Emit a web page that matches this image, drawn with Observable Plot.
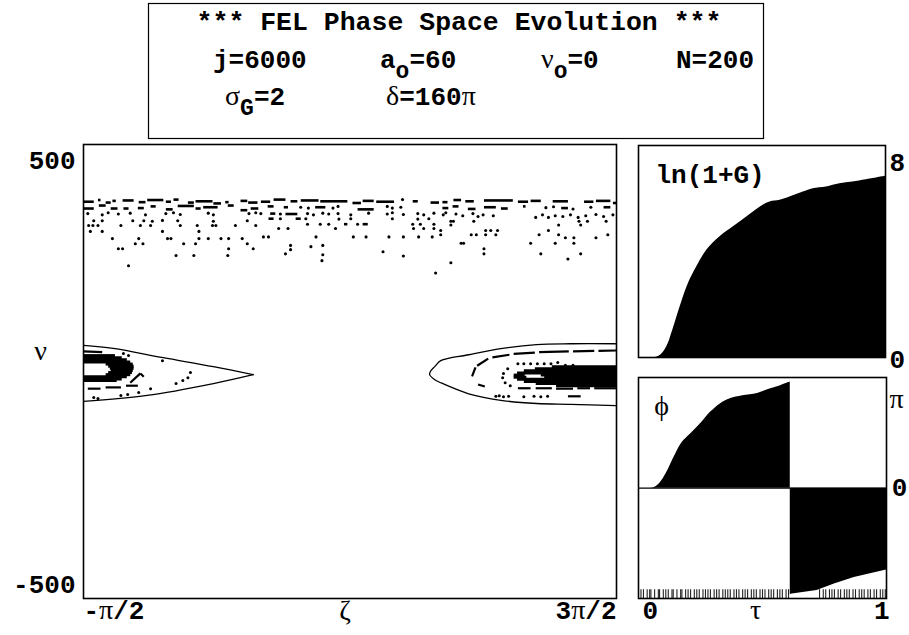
<!DOCTYPE html>
<html><head><meta charset="utf-8">
<script src="https://cdn.jsdelivr.net/npm/d3@7"></script>
<script src="https://cdn.jsdelivr.net/npm/@observablehq/plot@0.6"></script>
<style>
html,body{margin:0;padding:0;background:#fff;}
#root{position:relative;width:909px;height:635px;overflow:hidden;background:#fff;}
#root > svg{position:absolute;}
</style></head><body><div id="root"></div>
<script>
const PI = Math.PI;
// ---------- header text ----------
const titleText = "*** FEL Phase Space Evolution ***";
const paramTokens = [
  {x: 213, y: 68, text: "j=6000", sub: "", rest: ""},
  {x: 380, y: 68, text: "a", sub: "o", rest: "=60"},
  {x: 541, y: 68, text: "ν", sub: "o", rest: "=0"},
  {x: 676, y: 68, text: "N=200", sub: "", rest: ""},
  {x: 225, y: 105, text: "σ", sub: "G", rest: "=2"},
  {x: 386, y: 105, text: "δ=160π", sub: "", rest: ""}
];
// ---------- main phase-space panel ----------
const yTicks = [-500, 500];
const xTickLabels = [{v: -PI/2, label: "-π/2", anchor: "start"}, {v: 3*PI/2, label: "3π/2", anchor: "end"}];
// separatrix (zeta in rad, nu)
const sepRightZ  = [4.71, 4.17, 3.77, 3.37, 2.97, 2.64, 2.57, 2.52, 2.51, 2.57, 2.64, 2.97, 3.37, 3.77, 4.17, 4.71];
const sepRightNu = [68, 68, 66, 57, 42, 28, 14, 3, -5, -17, -24, -50, -66, -73, -75, -78];
const sepLeftUpperZ  = [-1.57, -1.22, -0.63, -0.04, 0.43];
const sepLeftUpperNu = [64, 57, 35, 14, -5];
const sepLeftLowerZ  = [0.43, -0.04, -0.82, -1.57];
const sepLeftLowerNu = [-5, -26, -54, -68];
// untrapped band: clumps [z1, z2, nu]
const bandStreaks = [
 [-1.57,-1.45,403],[-1.40,-1.37,407],[-1.31,-1.25,401],[-1.23,-1.19,405],[-1.11,-0.98,406],[-0.92,-0.84,402],[-0.82,-0.63,407],[-0.60,-0.54,403],[-0.51,-0.45,408],[-0.34,-0.27,401],[-0.25,-0.05,404],[-0.04,0.05,399],[0.10,0.14,402],[0.28,0.36,405],[0.37,0.48,401],
 [0.52,0.63,403],[0.67,0.81,408],[0.87,0.95,404],[0.99,1.20,406],[1.22,1.54,404],[1.60,1.70,400],[1.72,1.85,405],[1.88,2.09,403],[2.31,2.37,404],[2.52,2.62,401],
 [2.66,2.72,402],[2.79,2.88,407],[2.93,3.03,404],[3.15,3.49,406],[3.55,3.67,403],[3.70,3.82,405],[3.96,4.14,404],[4.33,4.44,403],[4.47,4.64,405],[4.67,4.71,400],
 [-1.57,-1.45,387],[-1.39,-1.31,394],[-1.25,-1.17,387],[-1.10,-1.04,387],[-0.93,-0.86,388],[-0.78,-0.72,392],[-0.60,-0.52,385],[-0.46,-0.27,393],[-0.25,-0.19,387],[-0.16,0.01,390],[0.13,0.20,394],[0.28,0.36,383],[0.40,0.49,387],
 [0.60,0.67,392],[0.79,0.84,390],[1.16,1.28,390],[1.66,1.85,385],
 [2.66,2.73,388],[2.78,2.85,392],[2.96,3.05,386],[3.15,3.29,390],[3.35,3.43,387],[3.61,3.64,392],[4.06,4.14,388],[4.56,4.64,390],
 [0.63,0.69,375],[0.81,0.95,374],[0.61,0.67,363],[0.93,0.99,363],[1.50,1.54,350],[1.72,1.78,350]
];
// untrapped band: single particles [z, nu]
const bandDots = [
 [0.99,390],[1.08,388],[1.37,388],[1.43,392],[2.01,392],[2.07,388],[2.17,390],[2.19,408],[3.88,389],[3.97,391],[4.20,386],[4.41,390],
 [-1.52,375],[-1.35,372],[-1.28,377],[-1.16,374],[-1.02,376],[-0.84,372],[-0.60,375],[-0.51,377],[-0.43,373],[-0.10,376],[-0.04,372],[0.38,375],[0.46,377],
 [0.52,375],[0.75,374],[1.07,375],[1.14,372],[1.25,376],[1.32,374],[1.43,375],[1.58,372],[1.79,376],[2.01,374],[2.07,377],[2.20,373],[2.37,375],[2.44,372],[2.56,376],
 [2.67,372],[2.70,377],[2.82,374],[2.90,370],[3.02,375],[3.08,368],[3.14,372],[3.26,370],[3.76,366],[3.84,372],[3.91,366],[3.99,370],[4.08,368],[4.17,372],[4.26,366],[4.35,370],[4.47,373],[4.56,368],[4.67,372],
 [-1.45,358],[-1.35,358],[-0.99,358],[-0.86,358],[-0.76,357],[-0.64,359],[-0.46,358],[-0.04,357],[0.36,358],[0.75,363],[1.05,363],[1.44,362],[1.58,363],[2.07,363],[2.37,362],[2.50,363],[2.76,357],[2.79,357],[3.03,357],[4.27,357],[4.37,357],[4.59,357],
 [-1.51,347],[-1.46,347],[-1.40,347],[-1.13,347],[-0.90,347],[-0.78,347],[-0.43,347],[-0.23,347],[-0.05,347],[-0.01,347],[0.22,347],[0.46,347],[1.07,350],[1.22,350],[1.32,350],[1.66,350],[2.31,350],[2.40,350],[2.56,350],[2.76,348],[4.03,348],[4.29,348],
 [-1.49,333],[-1.35,333],[-0.64,333],[-0.21,333],[0.73,340],[0.84,340],[1.40,340],[2.32,340],[2.44,340],[2.56,340],[2.64,335],[3.17,335],[3.23,335],[3.31,335],[3.91,335],
 [-1.23,316],[-0.92,316],[-0.58,316],[-0.54,316],[-0.21,316],[-0.10,316],[0.05,316],[0.14,316],[0.30,316],[0.55,320],[0.61,320],[1.17,320],[1.61,320],[1.76,320],[2.03,320],[2.20,320],[2.38,320],[2.54,320],[2.64,325],[3.00,325],[3.06,325],[3.17,325],[3.29,325],[3.80,325],[4.03,325],[4.61,325],[4.11,318],[4.21,318],[4.47,318],
 [-0.96,304],[-0.87,304],[-0.39,304],[-0.25,304],[0.36,304],[0.87,300],[1.11,297],[1.25,300],[2.88,305],[2.91,305],[3.70,305],[3.99,305],[4.21,305],
 [-1.16,292],[-1.11,292],[0.14,292],[0.43,292],[0.87,290],[3.15,292],
 [-0.48,276],[-0.27,276],[0.13,276],[0.81,280],[1.25,278],[1.96,285],[2.20,275],[3.15,280],[3.82,280],[4.29,280],
 [-1.04,252],[1.24,264],[4.14,268],[2.76,259],[2.58,235]
];
// trapped core (dense): [z1, z2, nu]
const coreStreaks = [
 [3.95,4.71,14],[3.75,4.71,9],[3.62,4.71,4],[3.54,4.71,-1],[3.50,3.63,-6],[3.82,4.71,-6],[3.50,3.65,-11],[3.86,4.71,-11],[3.54,4.71,-16],[3.62,4.71,-21],[3.76,4.71,-26],[4.00,4.71,-31],
 [-1.57,-1.20,40],[-1.57,-1.12,35],[-1.57,-1.06,30],[-1.57,-1.02,25],[-1.31,-0.99,20],[-1.28,-0.98,15],[-1.26,-0.98,10],[-1.25,-0.99,5],[-1.28,-1.00,0],[-1.31,-1.02,-5],[-1.57,-1.06,-10],[-1.57,-1.12,-15],[-1.57,-1.18,-19]
];
// trapped rings (dashes): [z1, nu1, z2, nu2]
const trapDashes = [
 [3.01,-9,3.05,12],[3.07,16,3.20,33],[3.25,36,3.45,42],[3.50,44,3.75,47],[3.80,48,4.15,50],[4.20,50,4.45,51],[4.50,51,4.71,52],[3.08,-28,3.16,-33],
 [3.55,-37,3.70,-37],[3.76,-37,3.95,-37],[4.00,-38,4.20,-38],[4.25,-37,4.40,-37],[4.45,-37,4.71,-37],[4.14,-56,4.29,-56],
 [-1.57,50,-1.35,48],[-1.52,-38,-1.37,-38],[-1.31,-35,-1.13,-35],[-1.07,-31,-0.93,-31],[-1.02,-24,-0.90,-2],[-0.90,-2,-0.86,-10]
];
// trapped single particles [z, nu]
const trapDots = [
 [3.43,9],[3.38,-2],[3.37,-12],[3.40,-24],[3.46,-31],[3.55,21],[3.62,21],[3.70,21],[3.78,21],[3.86,21],[3.94,21],[4.02,24],[4.11,17],[4.20,17],
 [3.29,-56],[3.33,-55],[3.38,-57],[3.44,-56],[3.62,-57],[3.74,-56],[3.82,-57],[3.90,-56],
 [-1.10,45],[-1.04,40],[-0.64,28],[-0.31,0],[-0.34,-12],[-0.40,-19],[-0.48,-26],[-0.78,-38],[-0.92,-47],[-1.13,-54],[-1.05,-52],[-1.40,-61],[-1.45,-59]
];
// ---------- gain panel ----------
const gainTau = [0, 0.081, 0.115, 0.135, 0.169, 0.202, 0.236, 0.277, 0.330, 0.384, 0.438, 0.492, 0.532, 0.573, 0.613, 0.667, 0.707, 0.761, 0.815, 0.868, 0.922, 1.0];
const gainVal = [0, 0.04, 0.45, 0.99, 2.07, 3.0, 3.68, 4.36, 4.9, 5.3, 5.7, 6.1, 6.31, 6.38, 6.51, 6.71, 6.85, 6.92, 7.05, 7.12, 7.21, 7.35];
const gainTicks = [0, 8];
// ---------- phase panel ----------
const phaseTauA = [0, 0.05, 0.07, 0.09, 0.11, 0.13, 0.15, 0.176, 0.21, 0.25, 0.29, 0.33, 0.37, 0.42, 0.48, 0.53, 0.57, 0.605, 0.612];
const phaseValA = [0, 0, 0.04, 0.18, 0.41, 0.71, 1.01, 1.35, 1.60, 1.90, 2.24, 2.49, 2.64, 2.73, 2.80, 2.93, 3.02, 3.12, 3.14];
const phaseTauB = [0.612, 0.62, 0.72, 0.79, 0.87, 1.0];
const phaseValB = [-3.14, -3.13, -3.02, -2.83, -2.64, -2.42];
const phaseTickLabels = [{v: PI, label: "π"}, {v: 0, label: "0"}];
const tauTickLabels = [{v: 0, label: "0", anchor: "start"}, {v: 1, label: "1", anchor: "end"}];
const hatchTau = [0.01,0.02,0.035,0.045,0.05,0.065,0.08,0.085,0.1,0.11,0.12,0.135,0.14,0.155,0.17,0.175,0.19,0.2,0.21,0.225,0.235,0.245,0.26,0.27,0.28,0.29,0.305,0.315,0.325,0.34,0.35,0.36,0.37,0.385,0.395,0.405,0.42,0.43,0.44,0.455,0.465,0.475,0.49,0.5,0.51,0.525,0.535,0.545,0.56,0.57,0.58,0.595,0.605,
 0.73,0.745,0.755,0.77,0.78,0.79,0.805,0.815,0.83,0.84,0.85,0.865,0.875,0.89,0.9,0.91,0.925,0.935,0.95,0.96,0.975,0.985,0.995];

// ================= rendering =================
const MONO = "'Liberation Mono', 'DejaVu Sans Mono', monospace";
const SERIF = "'Liberation Serif', 'DejaVu Serif', serif";
const mono = {fontFamily: MONO, fontWeight: "bold", fontSize: 26, fill: "black"};
const serif = {fontFamily: SERIF, fontWeight: "normal", fontSize: 28, fill: "black"};
const root = document.getElementById("root");
const GREEK = /([\u0370-\u03FF])/;
function greekify(svg) {
  svg.querySelectorAll("text").forEach(t => {
    const targets = t.querySelectorAll("tspan").length ? [...t.querySelectorAll("tspan")] : [t];
    targets.forEach(el => {
      const s = el.textContent;
      if (!GREEK.test(s)) return;
      if (s.length === 1) {
        el.setAttribute("font-family", SERIF); el.setAttribute("font-weight", "normal"); el.setAttribute("font-size", 28);
        return;
      }
      el.textContent = "";
      for (const part of s.split(GREEK)) {
        if (!part) continue;
        const ts = document.createElementNS("http://www.w3.org/2000/svg", "tspan");
        ts.textContent = part;
        if (GREEK.test(part)) { ts.setAttribute("font-family", SERIF); ts.setAttribute("font-weight", "normal"); ts.setAttribute("font-size", 28); }
        el.appendChild(ts);
      }
    });
  });
}
function place(svg, left, top) { svg.style.left = left + "px"; svg.style.top = top + "px"; root.appendChild(svg); greekify(svg); }

// header
const hdr = d3.create("svg").attr("width", 909).attr("height", 142);
hdr.append("rect").attr("x", 148.5).attr("y", 3.5).attr("width", 615).attr("height", 135).attr("fill", "none").attr("stroke", "black").attr("stroke-width", 1.2);
hdr.append("text").attr("x", 459).attr("y", 30).attr("text-anchor", "middle").attr("font-family", MONO).attr("font-weight", "bold").attr("font-size", 26.5).text(titleText);
for (const tk of paramTokens) {
  const t = hdr.append("text").attr("x", tk.x).attr("y", tk.y).attr("font-family", MONO).attr("font-weight", "bold").attr("font-size", 26);
  t.append("tspan").text(tk.text);
  if (tk.sub) {
    t.append("tspan").attr("dy", 10).attr("font-size", 23).text(tk.sub);
    t.append("tspan").attr("dy", -10).text(tk.rest);
  }
}
place(hdr.node(), 0, 0);

// main panel
const main = Plot.plot({
  width: 625, height: 505, marginLeft: 83, marginRight: 9, marginTop: 14, marginBottom: 37,
  x: {domain: [-PI/2, 3*PI/2], axis: null},
  y: {domain: [-533, 538], axis: null},
  style: {background: "transparent", overflow: "visible"},
  marks: [
    Plot.link(coreStreaks, {x1: d => d[0], x2: d => d[1], y1: d => d[2], y2: d => d[2], stroke: "black", strokeWidth: 3, clip: true}),
    Plot.link(bandStreaks, {x1: d => d[0], x2: d => d[1], y1: d => d[2], y2: d => d[2], stroke: "black", strokeWidth: 2.6, clip: true}),
    Plot.link(trapDashes, {x1: d => d[0], y1: d => d[1], x2: d => d[2], y2: d => d[3], stroke: "black", strokeWidth: 2.2, clip: true}),
    Plot.dot(bandDots, {x: d => d[0], y: d => d[1], r: 1.55, fill: "black"}),
    Plot.dot(trapDots, {x: d => d[0], y: d => d[1], r: 1.5, fill: "black"}),
    Plot.line(sepRightZ.map((z, i) => [z, sepRightNu[i]]), {x: d => d[0], y: d => d[1], curve: "catmull-rom", stroke: "black", strokeWidth: 1.3, clip: true}),
    Plot.line(sepLeftUpperZ.map((z, i) => [z, sepLeftUpperNu[i]]), {x: d => d[0], y: d => d[1], curve: "catmull-rom", stroke: "black", strokeWidth: 1.3, clip: true}),
    Plot.line(sepLeftLowerZ.map((z, i) => [z, sepLeftLowerNu[i]]), {x: d => d[0], y: d => d[1], curve: "catmull-rom", stroke: "black", strokeWidth: 1.3, clip: true}),
    Plot.frame({stroke: "black", strokeWidth: 1.6}),
    Plot.axisY({ticks: yTicks, tickSize: 0, tickPadding: 8, tickFormat: d => String(d), label: null, ...mono}),
    Plot.text(xTickLabels.filter(d => d.anchor === "start"), {x: "v", text: "label", frameAnchor: "bottom", dy: 20, textAnchor: "start", ...mono}),
    Plot.text(xTickLabels.filter(d => d.anchor === "end"), {x: "v", text: "label", frameAnchor: "bottom", dy: 20, textAnchor: "end", ...mono}),
    Plot.text(["ζ"], {frameAnchor: "bottom", dx: -5, dy: 21, textAnchor: "middle", ...serif}),
    Plot.text(["ν"], {frameAnchor: "left", dx: -43, dy: -20, textAnchor: "middle", ...serif})
  ]
});
place(main, 0, 130);

// gain panel
const gainData = gainTau.map((t, i) => ({t, v: gainVal[i]}));
const gain = Plot.plot({
  width: 279, height: 230, marginLeft: 8, marginRight: 24, marginTop: 10, marginBottom: 8,
  x: {domain: [0, 1], axis: null},
  y: {domain: [0, 8.6], axis: null},
  style: {background: "transparent", overflow: "visible"},
  marks: [
    Plot.areaY(gainData, {x: "t", y: "v", fill: "black", curve: "catmull-rom"}),
    Plot.frame({stroke: "black", strokeWidth: 1.6}),
    Plot.axisY({anchor: "right", ticks: gainTicks, tickSize: 0, tickPadding: 4, tickFormat: d => String(d), label: null, dy: 2, ...mono}),
    Plot.text(["ln(1+G)"], {frameAnchor: "top-left", dx: 17, dy: 19, textAnchor: "start", ...mono})
  ]
});
place(gain, 630, 135);

// phase panel
const phaseA = phaseTauA.map((t, i) => ({t, v: phaseValA[i]}));
const phaseB = phaseTauB.map((t, i) => ({t, v: phaseValB[i]}));
const phase = Plot.plot({
  width: 279, height: 268, marginLeft: 8, marginRight: 23, marginTop: 10, marginBottom: 37,
  x: {domain: [0, 1], axis: null},
  y: {domain: [-3.26, 3.27], axis: null},
  style: {background: "transparent", overflow: "visible"},
  marks: [
    Plot.areaY(phaseA, {x: "t", y: "v", fill: "black", curve: "catmull-rom"}),
    Plot.areaY(phaseB, {x: "t", y: "v", fill: "black", curve: "linear"}),
    Plot.ruleY([0], {stroke: "black", strokeWidth: 1.4}),
    Plot.ruleX(hatchTau, {x: d => d, y1: -3.26, y2: -3.0, stroke: "#222", strokeWidth: 1.1}),
    Plot.frame({stroke: "black", strokeWidth: 1.6}),
    Plot.text(phaseTickLabels.filter(d => d.label === "π"), {y: "v", text: "label", frameAnchor: "right", dx: 10, dy: 17, textAnchor: "middle", ...serif}),
    Plot.text(phaseTickLabels.filter(d => d.label === "0"), {y: "v", text: "label", frameAnchor: "right", dx: 13, textAnchor: "middle", ...mono}),
    Plot.text(tauTickLabels.filter(d => d.anchor === "start"), {x: "v", text: "label", frameAnchor: "bottom", dx: 4, dy: 20, textAnchor: "start", ...mono}),
    Plot.text(tauTickLabels.filter(d => d.anchor === "end"), {x: "v", text: "label", frameAnchor: "bottom", dx: 3, dy: 20, textAnchor: "end", ...mono}),
    Plot.text(["τ"], {frameAnchor: "bottom", dx: -7, dy: 20, textAnchor: "middle", ...serif}),
    Plot.text(["ϕ"], {frameAnchor: "top-left", dx: 23, dy: 18, textAnchor: "middle", ...serif})
  ]
});
place(phase, 630, 367);
</script></body></html>
